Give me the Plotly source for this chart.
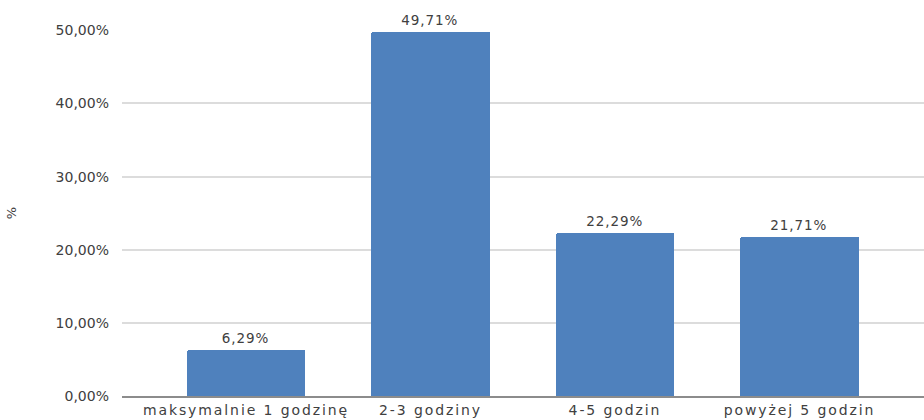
import plotly.graph_objects as go

# Time spent per day (answers share, %)
categories = ["maksymalnie 1 godzinę", "2-3 godziny", "4-5 godzin", "powyżej 5 godzin"]
values = [6.29, 49.71, 22.29, 21.71]
tick_values = [0, 10, 20, 30, 40, 50]
tick_labels = ["0,00%", "10,00%", "20,00%", "30,00%", "40,00%", "50,00%"]

bar_labels = [f"{v:.2f}".replace(".", ",") + "%" for v in values]
positions = list(range(len(categories)))

TEXT = "#404040"
FONT = "DejaVu Sans"

fig = go.Figure(
    go.Bar(
        x=positions,
        y=values,
        width=0.64,
        marker=dict(color="#4F81BD", line=dict(width=0), cornerradius=2),
        hoverinfo="skip",
    )
)

# value labels above each bar
for xi, v, lab in zip(positions, values, bar_labels):
    fig.add_annotation(
        x=xi, y=v, text=lab, showarrow=False,
        yanchor="bottom", yshift=2,
        font=dict(family=FONT, size=13.5, color=TEXT),
    )

fig.update_layout(
    width=924,
    height=420,
    margin=dict(l=122, r=0, t=30, b=24),
    paper_bgcolor="white",
    plot_bgcolor="white",
    showlegend=False,
    bargap=0,
    font=dict(family=FONT, color=TEXT),
)

fig.update_xaxes(
    tickmode="array",
    tickvals=positions,
    ticktext=categories,
    range=[-0.672, 3.675],
    showgrid=False,
    showline=True,
    linecolor="#8C8C8C",
    linewidth=1.5,
    ticks="",
    tickfont=dict(family=FONT, size=14, color=TEXT),
    ticklabelstandoff=0,
)

fig.update_yaxes(
    range=[0, 50.05],
    tickmode="array",
    tickvals=tick_values,
    ticktext=tick_labels,
    showgrid=True,
    gridcolor="#DCDCDC",
    gridwidth=1.5,
    zeroline=False,
    showline=False,
    ticks="",
    tickfont=dict(family=FONT, size=14, color=TEXT),
    ticklabelstandoff=12,
    title=dict(text="%", font=dict(family=FONT, size=13, color=TEXT), standoff=36),
)

# widen the tracking of the category and value labels
post = """
document.querySelectorAll('.xtick text').forEach(function(t){t.style.letterSpacing='1.9px';});
document.querySelectorAll('.annotation-text').forEach(function(t){t.style.letterSpacing='0.9px';});
"""

fig.write_html("out.html", post_script=post)
